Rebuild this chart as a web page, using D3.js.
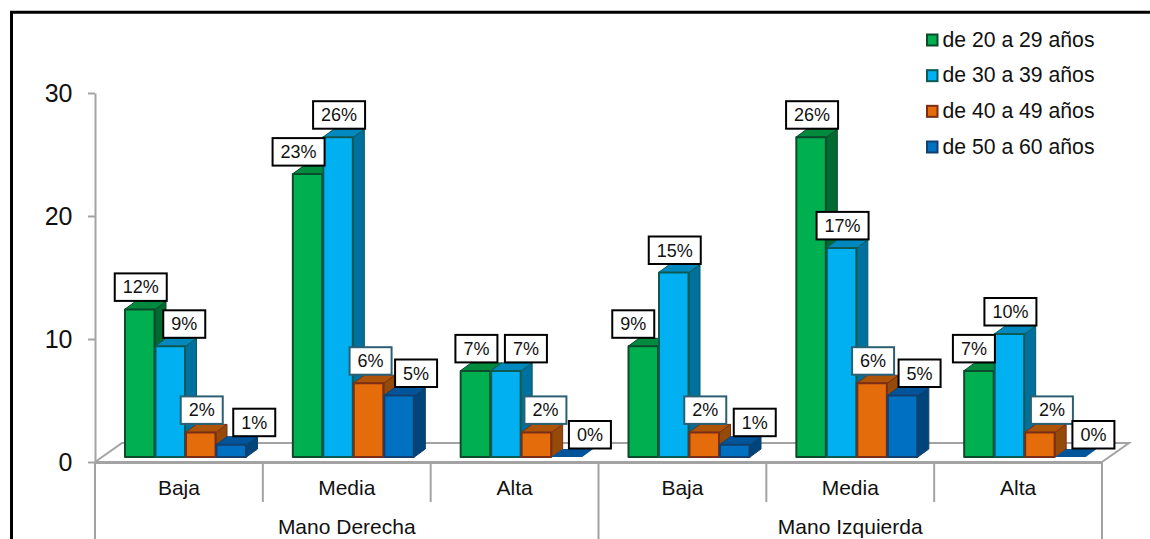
<!DOCTYPE html>
<html>
<head>
<meta charset="utf-8">
<script src="https://cdn.jsdelivr.net/npm/d3@7"></script>
<style>
html,body{margin:0;padding:0;background:#fff;overflow:hidden}
text{font-family:"Liberation Sans",Arial,sans-serif;fill:#111}
</style>
</head>
<body>
<svg id="c" width="1150" height="539"></svg>
<script>
const groups = ["Mano Derecha", "Mano Izquierda"];
const levels = ["Baja", "Media", "Alta"];
const seriesNames = ["de 20 a 29 años", "de 30 a 39 años", "de 40 a 49 años", "de 50 a 60 años"];
const v2029 = [12, 23, 7, 9, 26, 7];
const v3039 = [9, 26, 7, 15, 17, 10];
const v4049 = [2, 6, 2, 2, 6, 2];
const v5060 = [1, 5, 0, 1, 5, 0];
const seriesValues = [v2029, v3039, v4049, v5060];
const yTicks = [0, 10, 20, 30];

// palette per series: front, top, side, outline, label border
const front = ["#00b050", "#00b0f0", "#e46c0a", "#0070c0"];
const topC = ["#008a3e", "#0088bf", "#ad5408", "#00559a"];
const sideC = ["#006b30", "#00719e", "#964a07", "#00457a"];
const edge = ["#0c4a2c", "#0d5a55", "#7a2e18", "#123f6e"];
const boxEdge = ["#000", "#000", "#2b6074", "#000"];
// horizontal shift of each value label from its bar centre, [category][series]
const labelShift = [[1,14,1,23],[-9,1,2,17],[1,20,9,23],[-10,1,1,20],[1,1,1,17],[-5,1,12,23]];

const svg = d3.select("#c");
const grey = "#a3a3a3";
const depthX = 11, depthY = 8;
const floorDX = 27, floorDY = 19;

const yAxisScale = d3.scaleLinear().domain([0, 30]).range([462, 93]);
const baseLift = 5;
const y = v => yAxisScale(v) - baseLift;
const xCat = d3.scaleBand().domain(d3.range(6)).range([95, 1102]);
const xBar = d3.scaleBand().domain(d3.range(4)).range([29.5, 151.5]);
const xGroup = d3.scaleBand().domain(groups).range([95, 1102]);

// frame
svg.append("path").attr("d", "M11.5,539V12.2H1150").attr("fill", "none").attr("stroke", "#000").attr("stroke-width", 3);

// floor
const L = xCat.range()[0], R = xCat.range()[1], F = yAxisScale(0);
svg.append("path")
  .attr("d", `M${L},${F}L${L + floorDX},${F - floorDY}H${R + floorDX}L${R},${F}`)
  .attr("fill", "none").attr("stroke", grey).attr("stroke-width", 2);
svg.append("line").attr("x1", L).attr("x2", R).attr("y1", F + 0.5).attr("y2", F + 0.5)
  .attr("stroke", grey).attr("stroke-width", 3);

// y axis
const ax = svg.append("g").attr("transform", `translate(${L},0)`)
  .call(d3.axisLeft(yAxisScale).tickValues(yTicks).tickSize(7).tickPadding(15.5).tickSizeOuter(0));
ax.selectAll("path,line").attr("stroke", grey).attr("stroke-width", 2);
ax.selectAll("text").attr("font-size", 25).attr("dy", "0.34em").style("font-family", '"Liberation Sans",Arial,sans-serif').attr("fill", "#111");

// category lines and labels
const catG = svg.append("g");
d3.range(7).forEach(i => {
  const x = i < 6 ? xCat(i) : R;
  catG.append("line").attr("x1", x).attr("x2", x).attr("y1", F).attr("y2", i % 3 === 0 ? 539 : 502)
    .attr("stroke", grey).attr("stroke-width", 2);
});
d3.range(6).forEach(i => {
  catG.append("text").attr("x", xCat(i) + xCat.bandwidth() / 2).attr("y", 495)
    .attr("text-anchor", "middle").attr("font-size", 21).text(levels[i % 3]);
});
groups.forEach(g => {
  catG.append("text").attr("x", xGroup(g) + xGroup.bandwidth() / 2).attr("y", 534)
    .attr("text-anchor", "middle").attr("font-size", 21).text(g);
});

// bars
const barW = xBar.bandwidth();
const bars = [];
d3.range(6).forEach(c => d3.range(4).forEach(s => bars.push({c, s, v: seriesValues[s][c]})));
const barG = svg.append("g").selectAll("g").data(bars).join("g")
  .attr("stroke-linejoin", "round");
barG.each(function(d) {
  const g = d3.select(this);
  const x0 = xCat(d.c) + xBar(d.s), x1 = x0 + barW, yt = y(d.v), yb = y(0);
  g.append("path")
    .attr("d", `M${x1},${yt}L${x1 + depthX},${yt - depthY}V${yb - depthY}L${x1},${yb}Z`)
    .attr("fill", sideC[d.s]).attr("stroke", d.v ? edge[d.s] : "none").attr("stroke-width", 1);
  g.append("path")
    .attr("d", `M${x0},${yt}L${x0 + depthX},${yt - depthY}H${x1 + depthX}L${x1},${yt}Z`)
    .attr("fill", topC[d.s]).attr("stroke", d.v ? edge[d.s] : "none").attr("stroke-width", 1);
  if (d.v > 0) {
    g.append("rect").attr("x", x0 + 0.5).attr("y", yt).attr("width", barW - 1).attr("height", yb - yt)
      .attr("fill", front[d.s]).attr("stroke", edge[d.s]).attr("stroke-width", 2);
  }
});

// value labels
const lab = svg.append("g").selectAll("g").data(bars).join("g")
  .attr("transform", d => `translate(${xCat(d.c) + xBar(d.s) + barW / 2 + labelShift[d.c][d.s]},${y(d.v) - 8})`);
lab.append("rect")
  .attr("x", d => d.v >= 10 ? -26 : -21)
  .attr("width", d => d.v >= 10 ? 52 : 42)
  .attr("y", -28).attr("height", 27.5)
  .attr("fill", "#fff").attr("stroke", d => boxEdge[d.s]).attr("stroke-width", 2);
lab.append("text").attr("text-anchor", "middle").attr("y", -8).attr("font-size", 18).text(d => d.v + "%");

// legend
const legY = d3.scalePoint().domain(seriesNames).range([40, 147]);
const leg = svg.append("g").selectAll("g").data(seriesNames).join("g")
  .attr("transform", d => `translate(926,${legY(d)})`);
leg.append("rect").attr("x", 1).attr("y", -5.5).attr("width", 10.5).attr("height", 11)
  .attr("fill", (d, i) => front[i]).attr("stroke", (d, i) => edge[i]).attr("stroke-width", 2);
leg.append("text").attr("x", 16.5).attr("y", 6.8).attr("font-size", 21.2).text(d => d);
</script>
</body>
</html>
